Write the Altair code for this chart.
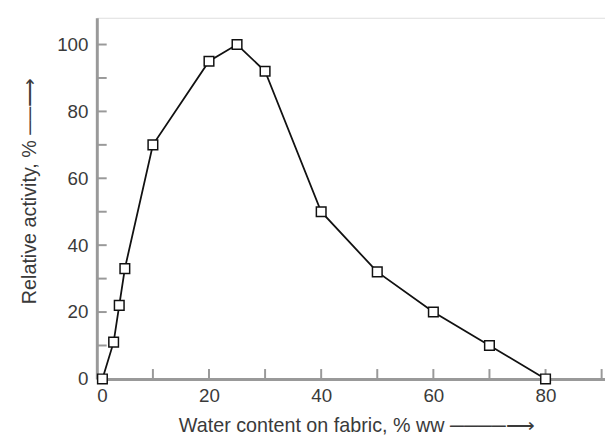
import altair as alt
import pandas as pd

water = [1, 3, 4, 5, 10, 20, 25, 30, 40, 50, 60, 70, 80]
activity = [0, 11, 22, 33, 70, 95, 100, 92, 50, 32, 20, 10, 0]
x_ticks = [10, 20, 30, 40, 50, 60, 70, 80, 90]
y_ticks = [10, 20, 30, 40, 50, 60, 70, 80, 90, 100]
x_labels = [0, 20, 40, 60, 80]
y_labels = [0, 20, 40, 60, 80, 100]

df = pd.DataFrame({"water": water, "activity": activity})
dfx = pd.DataFrame({"t": x_ticks})
dfy = pd.DataFrame({"t": y_ticks})

W, H = 515, 366
AX = "#999999"
TXT = "#3a3a3a"

xscale = alt.Scale(domain=[0, 90.6], nice=False, zero=False)
yscale = alt.Scale(domain=[0, 108], nice=False, zero=False)

xaxis = alt.Axis(
    values=x_labels, format="d", grid=False, ticks=False, tickSize=0,
    domainColor=AX, domainWidth=3, labelColor=TXT, labelFont="Liberation Sans",
    labelFontSize=19, labelPadding=8,
    title="Water content on fabric, % ww  ────⟶", titleFont="Liberation Sans",
    titleFontSize=20, titleFontWeight="normal", titleColor=TXT,
    titleX=263, titleY=47, titleAlign="center", titleBaseline="middle",
)
yaxis = alt.Axis(
    values=y_labels, format="d", grid=False, ticks=False, tickSize=0,
    domainColor=AX, domainWidth=3, labelColor=TXT, labelFont="Liberation Sans",
    labelFontSize=19, labelPadding=9,
    title="Relative activity, %  ──⟶", titleFont="Liberation Sans",
    titleFontSize=20, titleFontWeight="normal", titleColor=TXT,
    titleX=-68, titleY=175, titleAlign="center", titleBaseline="middle", titleAngle=-90,
)

line = alt.Chart(df).mark_line(color="#111111", strokeWidth=1.8, interpolate="linear").encode(
    x=alt.X("water:Q", scale=xscale, axis=xaxis),
    y=alt.Y("activity:Q", scale=yscale, axis=yaxis),
)
pts = alt.Chart(df).mark_point(shape="square", size=95, filled=True, fill="white",
                               stroke="#111111", strokeWidth=1.5, opacity=1).encode(
    x=alt.X("water:Q", scale=xscale),
    y=alt.Y("activity:Q", scale=yscale),
)
xt = alt.Chart(dfx).mark_rule(color=AX, strokeWidth=2).encode(
    x=alt.X("t:Q", scale=xscale),
    y=alt.value(H - 10), y2=alt.value(H),
)
yt = alt.Chart(dfy).mark_rule(color=AX, strokeWidth=2).encode(
    y=alt.Y("t:Q", scale=yscale),
    x=alt.value(0), x2=alt.value(10),
)

chart = alt.layer(xt, yt, line, pts).properties(
    width=W, height=H,
    autosize=alt.AutoSizeParams(type="none"),
    padding={"left": 90, "top": 7, "right": 0, "bottom": 60},
).configure_view(stroke=None).configure(background="white")

chart.save("out.html", embed_options={"renderer": "svg", "actions": False})
